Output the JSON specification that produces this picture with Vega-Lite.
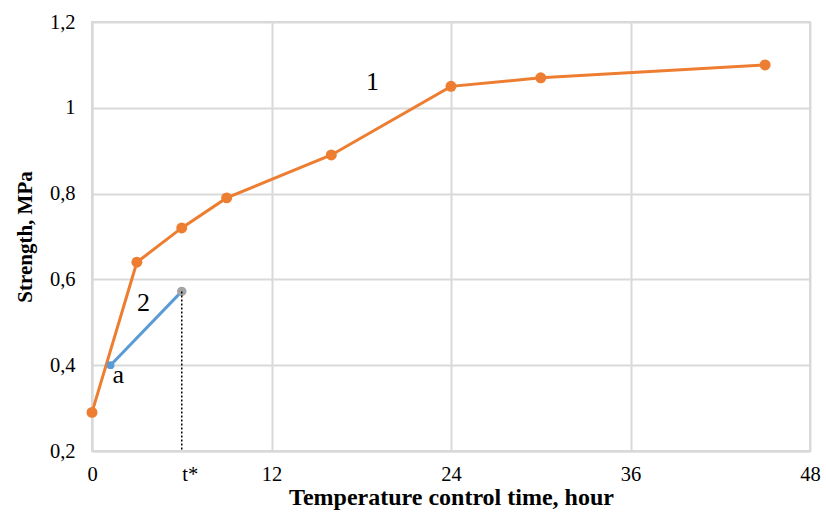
{
  "$schema": "https://vega.github.io/schema/vega-lite/v6.json",
  "width": 718,
  "height": 429,
  "autosize": {"type": "none"},
  "padding": {"left": 92, "top": 22, "right": 16, "bottom": 63},
  "background": "white",
  "config": {
    "view": {"stroke": "#d9d9d9", "strokeWidth": 2},
    "font": "Liberation Serif",
    "axis": {
      "labelFont": "Liberation Serif",
      "titleFont": "Liberation Serif",
      "labelFontSize": 20.5,
      "labelColor": "#000000",
      "titleColor": "#000000",
      "titleFontSize": 21,
      "titleFontWeight": "bold",
      "gridColor": "#d9d9d9",
      "gridWidth": 2,
      "domainColor": "#d9d9d9",
      "domainWidth": 2,
      "ticks": false
    }
  },
  "datasets": {
    "curve1": [
      {"t": 0, "s": 0.29},
      {"t": 3, "s": 0.64},
      {"t": 6, "s": 0.72},
      {"t": 9, "s": 0.79},
      {"t": 16, "s": 0.89},
      {"t": 24, "s": 1.05},
      {"t": 30, "s": 1.07},
      {"t": 45, "s": 1.1}
    ],
    "curve2": [
      {"t": 1.24, "s": 0.4, "kind": "start"},
      {"t": 6, "s": 0.572, "kind": "end"}
    ],
    "marker": [
      {"t": 6, "s": 0.572, "s0": 0.2}
    ],
    "labels": [
      {"t": 18.75, "s": 1.06, "label": "1"},
      {"t": 3.45, "s": 0.544, "label": "2"},
      {"t": 1.75, "s": 0.377, "label": "a"}
    ]
  },
  "encoding": {
    "x": {
      "field": "t",
      "type": "quantitative",
      "scale": {"domain": [0, 48], "nice": false, "zero": false},
      "axis": {
        "title": "Temperature control time, hour",
        "titleFont": "Liberation Serif",
        "labelFont": "Liberation Serif",
        "titleFontSize": 24,
        "values": [0, 6, 12, 24, 36, 48],
        "labelExpr": "datum.value == 6 ? 't*' : datum.label",
        "gridOpacity": {"condition": {"test": "datum.value == 6", "value": 0}, "value": 1},
        "labelOffset": {"condition": {"test": "datum.value == 6", "value": 8}, "value": 0},
        "labelPadding": 13,
        "titlePadding": 1,
        "labelFlush": false
      }
    },
    "y": {
      "field": "s",
      "type": "quantitative",
      "scale": {"domain": [0.2, 1.2], "nice": false, "zero": false},
      "axis": {
        "title": "Strength, MPa",
        "titleFont": "Liberation Serif",
        "labelFont": "Liberation Serif",
        "values": [0.2, 0.4, 0.6, 0.8, 1, 1.2],
        "format": "~g",
        "labelExpr": "replace(datum.label, '.', ',')",
        "labelPadding": 17,
        "titlePadding": 14,
        "labelFlush": false
      }
    }
  },
  "layer": [
    {
      "data": {"name": "curve1"},
      "mark": {"type": "line", "color": "#ED7D31", "strokeWidth": 3},
      "encoding": {}
    },
    {
      "data": {"name": "curve1"},
      "mark": {"type": "point", "filled": true, "color": "#ED7D31", "size": 120, "opacity": 1},
      "encoding": {}
    },
    {
      "data": {"name": "curve2"},
      "mark": {"type": "line", "color": "#5B9BD5", "strokeWidth": 3},
      "encoding": {}
    },
    {
      "data": {"name": "curve2"},
      "transform": [{"filter": "datum.kind == 'start'"}],
      "mark": {"type": "point", "filled": true, "color": "#5B9BD5", "size": 60, "opacity": 1},
      "encoding": {}
    },
    {
      "data": {"name": "curve2"},
      "transform": [{"filter": "datum.kind == 'end'"}],
      "mark": {"type": "point", "filled": true, "color": "#A5A5A5", "size": 90, "opacity": 1},
      "encoding": {}
    },
    {
      "data": {"name": "marker"},
      "mark": {"type": "rule", "color": "#000000", "strokeWidth": 1.5, "strokeDash": [2, 2]},
      "encoding": {"y2": {"field": "s0"}}
    },
    {
      "data": {"name": "labels"},
      "mark": {"type": "text", "font": "Liberation Serif", "fontSize": 26, "color": "#000000", "align": "center", "baseline": "middle"},
      "encoding": {"text": {"field": "label"}}
    }
  ]
}
